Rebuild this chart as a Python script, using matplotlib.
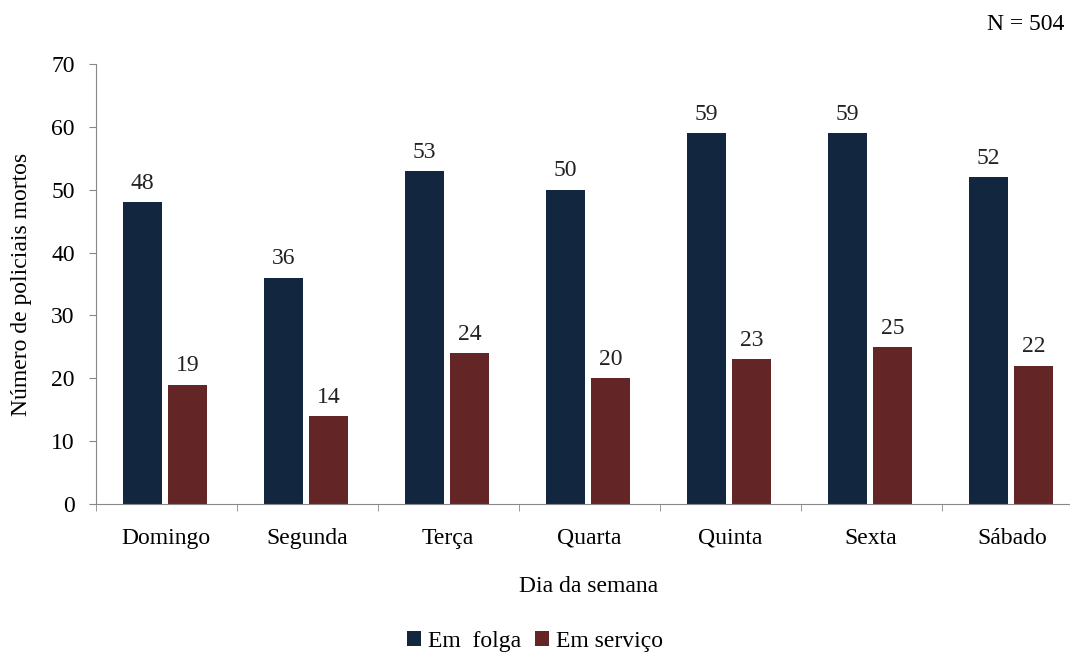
import numpy as np
import matplotlib.pyplot as plt

dias = ['Domingo', 'Segunda', 'Terça', 'Quarta', 'Quinta', 'Sexta', 'Sábado']
em_folga = [48, 36, 53, 50, 59, 59, 52]
em_servico = [19, 14, 24, 20, 23, 25, 22]

NAVY = '#13263f'
RED = '#632526'
FS = 17
plt.rcParams['font.family'] = ['Liberation Serif', 'DejaVu Serif']

fig = plt.figure(figsize=(10.7, 6.53), dpi=100)
# axes extends past the right edge like the original
ax = fig.add_axes([95.5 / 1070, 1 - 504 / 653, 987 / 1070, 440 / 653])

x = np.arange(len(dias))
w = 0.277
b1 = ax.bar(x - 0.166, em_folga, w, color=NAVY, label='Em  folga')
b2 = ax.bar(x + 0.155, em_servico, w, color=RED, label='Em serviço')

for bars, vals in ((b1, em_folga), (b2, em_servico)):
    for r, v in zip(bars, vals):
        ax.annotate(str(v), (r.get_x() + r.get_width() / 2, v), xytext=(0, 6),
                    textcoords='offset points', ha='center', va='bottom',
                    fontsize=FS, color='#222222')

ax.set_xlim(-0.5, len(dias) - 0.5)
ax.set_ylim(0, 70)
ax.set_yticks(range(0, 71, 10))
ax.tick_params(axis='y', labelsize=FS, length=5, color='#888888', pad=10)
ax.set_xticks(x)
ax.set_xticklabels(dias, fontsize=FS)
ax.tick_params(axis='x', length=0, pad=17)
ax.set_xticks(np.arange(-0.5, len(dias), 1), minor=True)
ax.tick_params(axis='x', which='minor', length=5, color='#888888')

for s in ('top', 'right'):
    ax.spines[s].set_visible(False)
for s in ('left', 'bottom'):
    ax.spines[s].set_color('#888888')

ax.set_ylabel('Número de policiais mortos', fontsize=FS, labelpad=14)
ax.set_xlabel('Dia da semana', fontsize=FS, labelpad=20)

fig.legend(handles=[b1, b2], loc='center', bbox_to_anchor=(0.5, 1 - 641 / 653),
           ncol=2, frameon=False, fontsize=FS, handlelength=0.6, handleheight=0.6,
           handletextpad=0.3, columnspacing=0.6)

fig.text(1064 / 1070, 1 - 25 / 653, 'N = 504', ha='right', va='center', fontsize=FS)

fig.savefig('out.png', dpi=100)
